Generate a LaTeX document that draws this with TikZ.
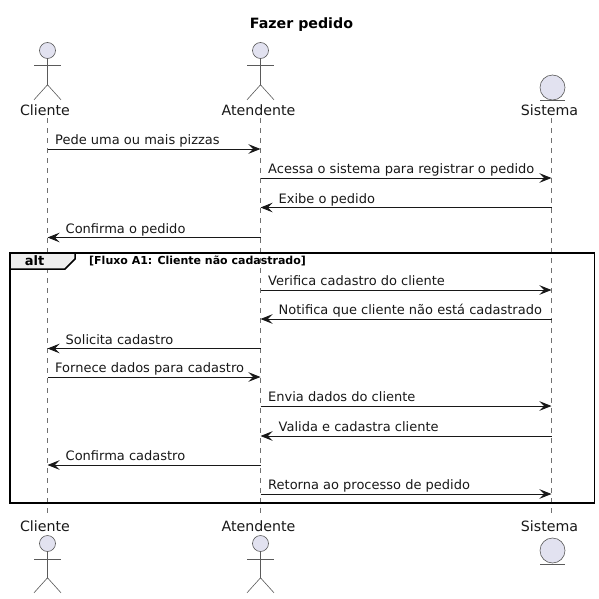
\documentclass[tikz,border=0pt]{standalone}
\usepackage{fontspec}
\setmainfont{DejaVu Sans}
\usetikzlibrary{arrows.meta}
\definecolor{actorfill}{HTML}{E2E2F0}
\definecolor{actorline}{HTML}{5A5A5A}
\definecolor{lifecol}{HTML}{707070}
\definecolor{ink}{HTML}{181818}
\definecolor{tabfill}{HTML}{EEEEEE}
\tikzset{
  x=1pt,y=-1pt,
  head/.style={circle,draw=actorline,fill=actorfill,line width=0.6pt,minimum size=16pt,inner sep=0pt},
  enthead/.style={circle,draw=actorline,fill=actorfill,line width=0.6pt,minimum size=25pt,inner sep=0pt},
  limb/.style={draw=actorline,line width=0.6pt},
  lifeline/.style={draw=lifecol,line width=0.5pt,dash pattern=on 5pt off 5pt},
  msg/.style={draw=ink,line width=0.9pt,-{Stealth[length=12pt,width=9.5pt,inset=4.5pt]}},
  msgtext/.style={font=\fontsize{13}{15}\selectfont,text=ink,anchor=base west,inner sep=0pt},
  partlabel/.style={font=\fontsize{14.2}{17}\selectfont,text=ink,anchor=base,inner sep=0pt},
  framebox/.style={draw=black,line width=1.5pt},
}
\newcommand{\stick}[2]{%
  \node[head] (h#1) at (#2) {};
  \coordinate (b#1) at ([yshift=-26pt]h#1.south);
  \draw[limb] (h#1.south) -- (b#1);
  \draw[limb] ([xshift=-13.5pt,yshift=-7pt]h#1.south) -- ([xshift=13.5pt,yshift=-7pt]h#1.south);
  \draw[limb] ([xshift=-13.5pt,yshift=-15pt]b#1) -- (b#1) -- ([xshift=13.5pt,yshift=-15pt]b#1);
}
\newcommand{\msgLR}[5]{% y, from, to, text
  \draw[msg] (#2 |- 0,#1) -- (#3 |- 0,#1);
  \node[msgtext] (t#5) at ([xshift=7.5pt]#2 |- 0,{#1-4.5}) {#4};
}
\newcommand{\msgRL}[5]{%
  \draw[msg] (#2 |- 0,#1) -- (#3 |- 0,#1);
  \node[msgtext] (t#5) at ([xshift=18pt]#3 |- 0,{#1-4.5}) {#4};
}
\begin{document}
\begin{tikzpicture}
\useasboundingbox (0,0) rectangle (598,599);
\node[font=\fontsize{14.2}{17}\selectfont\bfseries,text=black,anchor=base,inner sep=0pt] (title) at (301.5,28.5) {Fazer pedido};
% lifeline anchors
\coordinate (lc) at (47.5,118);
\coordinate (la) at (260.5,118);
\coordinate (ls) at (551.5,118);
\coordinate (lcb) at (47.5,515);
\coordinate (lab) at (260.5,515);
\coordinate (lsb) at (551.5,515);
\draw[lifeline] (lc) -- (lcb);
\draw[lifeline] (la) -- (lab);
\draw[lifeline] (ls) -- (lsb);
% participants top
\stick{ct}{47.5,50.5}
\stick{at}{260.5,50.5}
\node[enthead] (et) at (552.5,87.5) {};
\draw[limb] (540,100.5) -- (565,100.5);
\node[partlabel] (lct) at (45,115) {Cliente};
\node[partlabel] (lat) at (258.5,115) {Atendente};
\node[partlabel] (lst) at (549.5,115) {Sistema};
% participants bottom
\node[partlabel] (lcd) at (45,531) {Cliente};
\node[partlabel] (lad) at (258.5,531) {Atendente};
\node[partlabel] (lsd) at (549.5,531) {Sistema};
\stick{cd}{47.5,543.5}
\stick{ad}{260.5,543.5}
\node[enthead] (ed) at (552.5,550.5) {};
\draw[limb] (540,564) -- (565,564);
% frame
\draw[framebox] (10,253) rectangle (594.5,503);
\draw[framebox,fill=tabfill] (10,253) -- (75,253) -- (75,259) -- (65,269) -- (10,269) -- cycle;
\node[font=\fontsize{13}{15}\selectfont\bfseries,text=black,anchor=base,inner sep=0pt] (alt) at (34.5,265) {alt};
\node[font=\fontsize{11}{13}\selectfont\bfseries,text=black,anchor=base west,inner sep=0pt] (guard) at (89,264) {[Fluxo A1: Cliente não cadastrado]};
% messages
\msgLR{149}{lc}{la}{Pede uma ou mais pizzas}{a}
\msgLR{178}{la}{ls}{Acessa o sistema para registrar o pedido}{b}
\msgRL{207.5}{ls}{la}{Exibe o pedido}{c}
\msgRL{237.5}{la}{lc}{Confirma o pedido}{d}
\msgLR{290}{la}{ls}{Verifica cadastro do cliente}{e}
\msgRL{319}{ls}{la}{Notifica que cliente não está cadastrado}{f}
\msgRL{348.5}{la}{lc}{Solicita cadastro}{g}
\msgLR{377}{lc}{la}{Fornece dados para cadastro}{h}
\msgLR{406}{la}{ls}{Envia dados do cliente}{i}
\msgRL{436}{ls}{la}{Valida e cadastra cliente}{j}
\msgRL{465}{la}{lc}{Confirma cadastro}{k}
\msgLR{494}{la}{ls}{Retorna ao processo de pedido}{l}
\end{tikzpicture}
\end{document}
